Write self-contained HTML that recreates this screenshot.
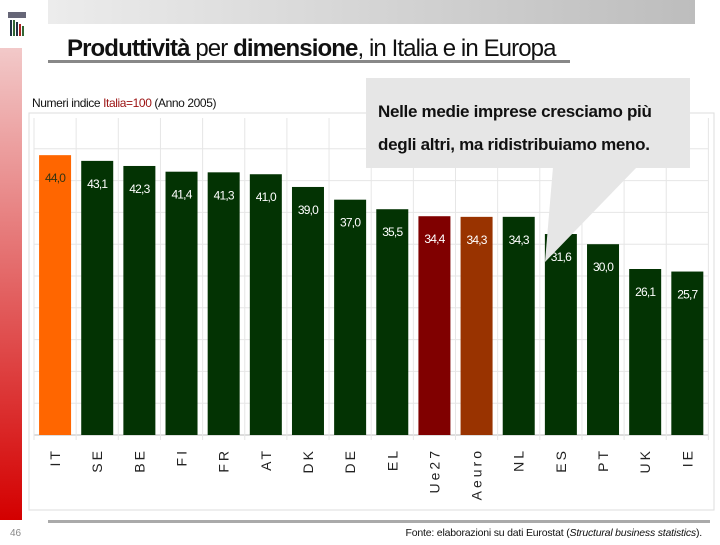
<!DOCTYPE html>
<html><head><meta charset="utf-8"><style>
body{margin:0;background:#fff;}
svg text{font-family:"Liberation Sans",sans-serif;}
</style></head><body>
<svg width="720" height="540" viewBox="0 0 720 540" xmlns="http://www.w3.org/2000/svg">
<defs>
<linearGradient id="tg" x1="0" x2="1"><stop offset="0" stop-color="#ececec"/><stop offset="1" stop-color="#bdbdbd"/></linearGradient>
<linearGradient id="rg" x1="0" x2="0" y1="0" y2="1"><stop offset="0" stop-color="#f2c9c9"/><stop offset="1" stop-color="#d40000"/></linearGradient>
</defs>
<rect x="48" y="0" width="647" height="24" fill="url(#tg)"/>
<rect x="0" y="48" width="22" height="472" fill="url(#rg)"/>
<g>
<rect x="8" y="12" width="18" height="6" fill="#667"/>
<rect x="10" y="20" width="2" height="16" fill="#234"/><rect x="13" y="20" width="2" height="16" fill="#363"/><rect x="16" y="22" width="2" height="14" fill="#234"/><rect x="19" y="24" width="2" height="12" fill="#a22"/><rect x="22" y="26" width="2" height="10" fill="#363"/>
</g>
<text x="67" y="56" font-size="24" fill="#111" letter-spacing="-0.9"><tspan font-weight="bold">Produttività</tspan> per <tspan font-weight="bold">dimensione</tspan>, in Italia e in Europa</text>
<rect x="48" y="60" width="522" height="3" fill="#888"/>
<text x="32" y="107" font-size="12" fill="#111" letter-spacing="-0.4">Numeri indice <tspan fill="#9b1111">Italia=100</tspan>  (Anno 2005)</text>
<rect x="29" y="113" width="685" height="397" fill="#fff" stroke="#ddd"/>
<g id="grid"></g>
<g id="bars"></g>
<g id="xlabels"></g>
<g>
<rect x="366" y="78" width="324" height="90" fill="#e6e6e6"/>
<polygon points="553,167 637,167 545,262" fill="#e6e6e6"/>
<text x="378" y="117" font-size="17" font-weight="bold" fill="#111" letter-spacing="-0.3">Nelle medie imprese cresciamo più</text>
<text x="378" y="150" font-size="17" font-weight="bold" fill="#111" letter-spacing="-0.3">degli altri, ma ridistribuiamo meno.</text>
</g>
<rect x="48" y="520" width="662" height="3" fill="#aaa"/>
<text x="10" y="536" font-size="10" fill="#888">46</text>
<text x="702" y="536" font-size="10.5" fill="#111" text-anchor="end" letter-spacing="-0.2">Fonte: elaborazioni su dati Eurostat (<tspan font-style="italic">Structural business statistics</tspan>).</text>
</svg>
<script>
const categories=["IT","SE","BE","FI","FR","AT","DK","DE","EL","Ue27","Aeuro","NL","ES","PT","UK","IE"];
const values=[44.0,43.1,42.3,41.4,41.3,41.0,39.0,37.0,35.5,34.4,34.3,34.3,31.6,30.0,26.1,25.7];
const valueLabels=["44,0","43,1","42,3","41,4","41,3","41,0","39,0","37,0","35,5","34,4","34,3","34,3","31,6","30,0","26,1","25,7"];
const barColors=["#ff6600","#033303","#033303","#033303","#033303","#033303","#033303","#033303","#033303","#800000","#993300","#033303","#033303","#033303","#033303","#033303"];
const gridTicks=[0,5,10,15,20,25,30,35,40,45,50];
const NS="http://www.w3.org/2000/svg";
const base=435, k=6.36, x0=34, step=42.15, bw=32;
const y=v=>base-v*k;
const xs=i=>x0+i*step;
function mk(t,a,p){const e=document.createElementNS(NS,t);for(const n in a)e.setAttribute(n,a[n]);p.appendChild(e);return e;}
const g=document.getElementById('grid'),b=document.getElementById('bars'),xl=document.getElementById('xlabels');
gridTicks.forEach(v=>{if(y(v)<118)return;const l=mk('line',{x1:34,x2:708,y1:y(v),y2:y(v),stroke:v===0?'#bbb':'#e6e6e6'},g);

});
for(let i=0;i<=categories.length;i++){const l=mk('line',{x1:xs(i),x2:xs(i),y1:118,y2:base+5,stroke:'#e6e6e6'},g);

}
categories.forEach((c,i)=>{
const cx=xs(i)+step/2;
const r=mk('rect',{x:cx-bw/2,y:y(values[i]),width:bw,height:values[i]*k,fill:barColors[i]},b);


const t=mk('text',{x:cx,y:y(values[i])+27,'font-size':12,'text-anchor':'middle',fill:i===0?'#331':'#fff','letter-spacing':'-0.8'},b);
t.textContent=valueLabels[i];


const lb=mk('text',{x:0,y:0,'font-size':14,'text-anchor':'end',fill:'#222','letter-spacing':'3',transform:`translate(${cx+5},448) rotate(-90)`},xl);
lb.textContent=c;


});
</script>
</body></html>
